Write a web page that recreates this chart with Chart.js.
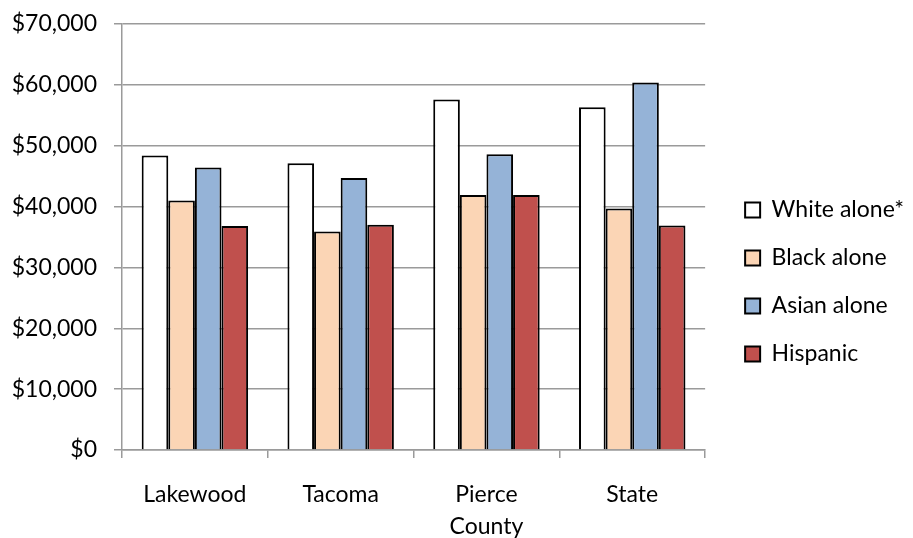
<!DOCTYPE html>
<html>
<head>
<meta charset="utf-8">
<script src="https://cdn.jsdelivr.net/npm/chart.js@4/dist/chart.umd.min.js"></script>
<style>
  html, body { margin: 0; padding: 0; background: #fff; }
  #wrap { width: 913px; height: 538px; position: relative; }
</style>
</head>
<body>
<div id="wrap"><canvas id="c" width="913" height="538"></canvas></div>
<script>
const categories = ['Lakewood', 'Tacoma', ['Pierce', 'County'], 'State'];
const seriesNames = ['White alone*', 'Black alone', 'Asian alone', 'Hispanic'];
const whiteAlone = [48400, 47100, 57600, 56300];
const blackAlone = [41000, 35900, 41900, 39700];
const asianAlone = [46400, 44700, 48600, 60400];
const hispanic   = [36800, 37000, 41900, 36900];
const yTicks = { min: 0, max: 70000, step: 10000 };

const colors = ['#FFFFFF', '#FBD5B5', '#95B3D7', '#C0504D'];
const seriesValues = [whiteAlone, blackAlone, asianAlone, hispanic];

const FONT = 'Lato, "Open Sans", sans-serif';
const LEGEND_SHIFT_X = 15;
const LEGEND_SHIFT_Y = 1;

const legendShift = {
  id: 'legendShift',
  afterLayout(chart) {
    const l = chart.legend;
    if (!l) return;
    l.left += LEGEND_SHIFT_X; l.right += LEGEND_SHIFT_X;
    l.top += LEGEND_SHIFT_Y; l.bottom += LEGEND_SHIFT_Y;
  }
};

new Chart(document.getElementById('c'), {
  type: 'bar',
  data: {
    labels: categories,
    datasets: seriesNames.map((name, i) => ({
      label: name,
      data: seriesValues[i],
      backgroundColor: colors[i],
      borderColor: '#000000',
      borderWidth: 2,
      categoryPercentage: 0.73,
      barPercentage: 1.0
    }))
  },
  options: {
    responsive: false,
    animation: false,
    devicePixelRatio: 1,
    layout: { padding: { left: 12, top: 24, right: 14, bottom: 0 } },
    plugins: {
      title: { display: false },
      tooltip: { enabled: false },
      legend: {
        position: 'right',
        align: 'center',
        labels: {
          boxWidth: 15,
          boxHeight: 15,
          padding: 25,
          color: '#000',
          font: { family: FONT, size: 23 }
        }
      }
    },
    scales: {
      x: {
        afterFit: s => { s.height = 88; s.paddingLeft = 0; s.paddingRight = 0; },
        grid: { display: true, drawOnChartArea: false, drawTicks: true, tickLength: 8, color: '#9a9a9a', lineWidth: 1.5, offset: true },
        border: { display: true, color: '#9a9a9a', width: 1.5 },
        ticks: { color: '#000', padding: 20, maxRotation: 0, autoSkip: false, font: { family: FONT, size: 23, lineHeight: 1.4 } }
      },
      y: {
        min: yTicks.min,
        max: yTicks.max,
        afterFit: s => { s.width = 110; s.paddingTop = 0; s.paddingBottom = 0; },
        grid: { color: '#9a9a9a', lineWidth: 1.5, tickLength: 8, drawTicks: true },
        border: { display: true, color: '#9a9a9a', width: 1.5 },
        ticks: {
          stepSize: yTicks.step,
          padding: 17,
          color: '#000',
          font: { family: FONT, size: 23 },
          callback: v => '$' + Number(v).toLocaleString('en-US')
        }
      }
    }
  },
  plugins: [legendShift]
});
</script>
</body>
</html>
